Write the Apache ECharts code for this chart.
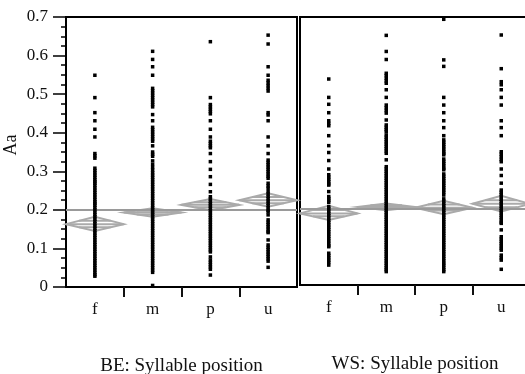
<!DOCTYPE html>
<html>
<head>
<meta charset="utf-8">
<script src="https://cdn.jsdelivr.net/npm/echarts@6/dist/echarts.min.js"></script>
<style>
  html, body { margin: 0; padding: 0; background: #fff; }
  #chart { width: 525px; height: 374px; }
</style>
</head>
<body>
<div id="chart"></div>
<script>
// syllable positions
const categories = ['f', 'm', 'p', 'u'];
const yTicks = [0, 0.1, 0.2, 0.3, 0.4, 0.5, 0.6, 0.7];

// BE: Aa per syllable position
const beF = [0.549, 0.491, 0.452, 0.431, 0.409, 0.389, 0.346, 0.340, 0.334, 0.308, 0.302, 0.296, 0.290, 0.284, 0.278, 0.273, 0.269, 0.263, 0.257, 0.251, 0.245, 0.239, 0.233, 0.227, 0.221, 0.217, 0.212, 0.206, 0.200, 0.194, 0.188, 0.182, 0.176, 0.170, 0.164, 0.158, 0.152, 0.146, 0.140, 0.134, 0.128, 0.122, 0.116, 0.110, 0.104, 0.098, 0.092, 0.086, 0.080, 0.074, 0.068, 0.062, 0.056, 0.050, 0.044, 0.038, 0.032, 0.028];
const beM = [0.611, 0.590, 0.571, 0.549, 0.515, 0.509, 0.503, 0.497, 0.491, 0.485, 0.479, 0.473, 0.467, 0.447, 0.431, 0.414, 0.408, 0.402, 0.396, 0.390, 0.384, 0.378, 0.366, 0.350, 0.344, 0.339, 0.327, 0.318, 0.310, 0.303, 0.296, 0.290, 0.284, 0.278, 0.272, 0.266, 0.260, 0.254, 0.248, 0.242, 0.236, 0.230, 0.224, 0.218, 0.212, 0.206, 0.200, 0.194, 0.188, 0.182, 0.176, 0.170, 0.164, 0.158, 0.152, 0.146, 0.140, 0.134, 0.128, 0.122, 0.116, 0.110, 0.104, 0.098, 0.092, 0.086, 0.080, 0.074, 0.068, 0.062, 0.056, 0.050, 0.044, 0.038, 0.004];
const beP = [0.636, 0.491, 0.473, 0.467, 0.461, 0.455, 0.449, 0.431, 0.409, 0.389, 0.378, 0.372, 0.366, 0.361, 0.346, 0.325, 0.305, 0.286, 0.266, 0.247, 0.234, 0.228, 0.222, 0.216, 0.210, 0.204, 0.198, 0.192, 0.186, 0.180, 0.174, 0.168, 0.162, 0.156, 0.150, 0.144, 0.138, 0.132, 0.126, 0.120, 0.114, 0.108, 0.102, 0.096, 0.091, 0.078, 0.070, 0.064, 0.058, 0.052, 0.046, 0.031];
const beU = [0.653, 0.630, 0.571, 0.549, 0.536, 0.529, 0.522, 0.515, 0.508, 0.452, 0.446, 0.431, 0.389, 0.366, 0.346, 0.329, 0.323, 0.317, 0.311, 0.305, 0.299, 0.293, 0.287, 0.282, 0.269, 0.262, 0.256, 0.247, 0.241, 0.235, 0.229, 0.223, 0.217, 0.211, 0.205, 0.199, 0.195, 0.187, 0.174, 0.168, 0.162, 0.156, 0.150, 0.144, 0.141, 0.122, 0.109, 0.103, 0.097, 0.091, 0.085, 0.079, 0.073, 0.067, 0.051];

// WS: Aa per syllable position
const wsF = [0.538, 0.490, 0.472, 0.450, 0.429, 0.422, 0.416, 0.390, 0.364, 0.346, 0.325, 0.303, 0.288, 0.282, 0.276, 0.270, 0.264, 0.261, 0.244, 0.231, 0.226, 0.221, 0.216, 0.205, 0.199, 0.193, 0.187, 0.181, 0.175, 0.169, 0.163, 0.157, 0.151, 0.145, 0.139, 0.133, 0.127, 0.121, 0.115, 0.109, 0.103, 0.100, 0.083, 0.077, 0.071, 0.065, 0.059, 0.052];
const wsM = [0.652, 0.610, 0.589, 0.553, 0.547, 0.540, 0.533, 0.527, 0.510, 0.490, 0.470, 0.463, 0.456, 0.449, 0.431, 0.418, 0.412, 0.406, 0.401, 0.392, 0.386, 0.380, 0.374, 0.368, 0.362, 0.356, 0.350, 0.344, 0.327, 0.309, 0.303, 0.297, 0.291, 0.285, 0.279, 0.273, 0.267, 0.261, 0.255, 0.249, 0.243, 0.237, 0.231, 0.225, 0.219, 0.213, 0.207, 0.201, 0.195, 0.189, 0.183, 0.177, 0.171, 0.165, 0.159, 0.153, 0.147, 0.141, 0.135, 0.129, 0.123, 0.117, 0.111, 0.105, 0.099, 0.093, 0.087, 0.081, 0.075, 0.069, 0.063, 0.057, 0.051, 0.045, 0.040, 0.035];
const wsP = [0.694, 0.588, 0.571, 0.490, 0.470, 0.450, 0.429, 0.411, 0.390, 0.379, 0.373, 0.367, 0.361, 0.355, 0.349, 0.344, 0.340, 0.329, 0.323, 0.317, 0.311, 0.305, 0.301, 0.290, 0.284, 0.278, 0.272, 0.266, 0.260, 0.254, 0.248, 0.242, 0.235, 0.225, 0.219, 0.213, 0.207, 0.201, 0.195, 0.189, 0.183, 0.177, 0.171, 0.165, 0.159, 0.153, 0.147, 0.141, 0.135, 0.129, 0.123, 0.117, 0.111, 0.105, 0.099, 0.093, 0.087, 0.081, 0.075, 0.069, 0.063, 0.057, 0.052, 0.046, 0.040, 0.035];
const wsU = [0.653, 0.565, 0.531, 0.523, 0.510, 0.490, 0.470, 0.429, 0.411, 0.390, 0.348, 0.342, 0.335, 0.328, 0.322, 0.303, 0.286, 0.266, 0.248, 0.242, 0.236, 0.230, 0.224, 0.218, 0.212, 0.206, 0.200, 0.194, 0.188, 0.182, 0.176, 0.170, 0.164, 0.161, 0.144, 0.126, 0.120, 0.114, 0.108, 0.102, 0.096, 0.091, 0.078, 0.071, 0.065, 0.041];

// means diamonds: group mean and 95% interval, grand mean line
const beMean = [0.163, 0.193, 0.213, 0.225];
const beLow  = [0.145, 0.182, 0.199, 0.208];
const beHigh = [0.182, 0.204, 0.228, 0.243];
const wsMean = [0.187, 0.204, 0.202, 0.212];
const wsLow  = [0.170, 0.195, 0.185, 0.192];
const wsHigh = [0.207, 0.213, 0.220, 0.233];
const beGrandMean = 0.2;
const wsGrandMean = 0.2;

const font = 'Liberation Serif';
const grey = '#aaaaaa';

function toPoints(cols) {
  let out = [];
  cols.forEach((vals, i) => vals.forEach(v => out.push([i + 1, v])));
  return out;
}
function toDiamonds(mean, low, high) {
  return mean.map((m, i) => [i + 1, m, low[i], high[i]]);
}

function renderDiamond(params, api) {
  const x = api.value(0), mean = api.value(1), lo = api.value(2), hi = api.value(3);
  const l = api.coord([x - 0.5, mean]);
  const r = api.coord([x + 0.5, mean]);
  const t = api.coord([x, hi]);
  const b = api.coord([x, lo]);
  const half = (r[0] - l[0]) / 2;
  const cx = t[0];
  const style = { stroke: grey, lineWidth: 2, fill: null };
  const k = 0.45;
  const yUp = api.coord([x, mean + (hi - mean) * k])[1];
  const yDn = api.coord([x, mean - (mean - lo) * k])[1];
  const w = half * (1 - k);
  return {
    type: 'group',
    children: [
      { type: 'polygon', shape: { points: [l, t, r, b] }, style: style },
      { type: 'line', shape: { x1: l[0], y1: l[1], x2: r[0], y2: r[1] }, style: style },
      { type: 'line', shape: { x1: cx - w, y1: yUp, x2: cx + w, y2: yUp }, style: style },
      { type: 'line', shape: { x1: cx - w, y1: yDn, x2: cx + w, y2: yDn }, style: style }
    ]
  };
}

const myChart = echarts.init(document.getElementById('chart'));

function xAxisFor(gridIndex, name) {
  return {
    gridIndex: gridIndex,
    type: 'value',
    min: 0.5,
    max: 4.5,
    splitLine: { show: false },
    axisLine: { show: true, lineStyle: { color: '#000', width: 2 } },
    axisTick: {
      show: true,
      customValues: [1.5, 2.5, 3.5],
      length: 10,
      lineStyle: { color: '#111', width: 2 }
    },
    axisLabel: {
      customValues: [1, 2, 3, 4],
      formatter: v => categories[Math.round(v) - 1],
      margin: 14,
      color: '#111',
      fontFamily: font,
      fontSize: 17
    },
    name: name,
    nameLocation: 'middle',
    nameGap: 70,
    nameTextStyle: { color: '#111', fontFamily: font, fontSize: 19 }
  };
}

const option = {
  animation: false,
  backgroundColor: '#fff',
  grid: [
    { left: 66, top: 17, width: 231, height: 270, show: true, borderColor: '#000', borderWidth: 2, outerBoundsMode: 'none' },
    { left: 300, top: 17, width: 230, height: 268, show: true, borderColor: '#000', borderWidth: 2, outerBoundsMode: 'none' }
  ],
  xAxis: [
    xAxisFor(0, 'BE: Syllable position'),
    xAxisFor(1, 'WS: Syllable position')
  ],
  yAxis: [{
    gridIndex: 0,
    type: 'value',
    min: yTicks[0],
    max: yTicks[yTicks.length - 1],
    interval: 0.1,
    splitLine: { show: false },
    axisLine: { show: true, lineStyle: { color: '#000', width: 2 } },
    axisTick: { show: true, length: 13, lineStyle: { color: '#000', width: 1.5 } },
    minorTick: { show: true, splitNumber: 4, length: 5, lineStyle: { color: '#000', width: 1.5 } },
    axisLabel: {
      margin: 18,
      color: '#111',
      fontFamily: font,
      fontSize: 17,
      formatter: v => String(+v.toFixed(1))
    },
    name: 'Aa',
    nameLocation: 'middle',
    nameGap: 46,
    nameTextStyle: { color: '#111', fontFamily: font, fontSize: 18, padding: [0, 0, 0, 14] }
  }, {
    gridIndex: 1,
    type: 'value',
    min: yTicks[0],
    max: yTicks[yTicks.length - 1],
    interval: 0.1,
    splitLine: { show: false },
    axisLine: { show: true, lineStyle: { color: '#000', width: 2 } },
    axisTick: { show: false },
    axisLabel: { show: false }
  }],
  series: [{
    type: 'custom',
    xAxisIndex: 0,
    yAxisIndex: 0,
    renderItem: renderDiamond,
    data: toDiamonds(beMean, beLow, beHigh),
    z: 1,
    silent: true,
    markLine: {
      silent: true,
      symbol: 'none',
      label: { show: false },
      lineStyle: { color: '#9a9a9a', type: 'solid', width: 1.8 },
      data: [{ yAxis: beGrandMean }]
    }
  }, {
    type: 'custom',
    xAxisIndex: 1,
    yAxisIndex: 1,
    renderItem: renderDiamond,
    data: toDiamonds(wsMean, wsLow, wsHigh),
    z: 1,
    silent: true,
    markLine: {
      silent: true,
      symbol: 'none',
      label: { show: false },
      lineStyle: { color: '#9a9a9a', type: 'solid', width: 1.8 },
      data: [{ yAxis: wsGrandMean }]
    }
  }, {
    type: 'scatter',
    xAxisIndex: 0,
    yAxisIndex: 0,
    symbol: 'rect',
    symbolSize: 3.5,
    itemStyle: { color: '#000', opacity: 1 },
    data: toPoints([beF, beM, beP, beU]),
    z: 5
  }, {
    type: 'scatter',
    xAxisIndex: 1,
    yAxisIndex: 1,
    symbol: 'rect',
    symbolSize: 3.5,
    itemStyle: { color: '#000', opacity: 1 },
    data: toPoints([wsF, wsM, wsP, wsU]),
    z: 5
  }]
};

myChart.setOption(option);
</script>
</body>
</html>
